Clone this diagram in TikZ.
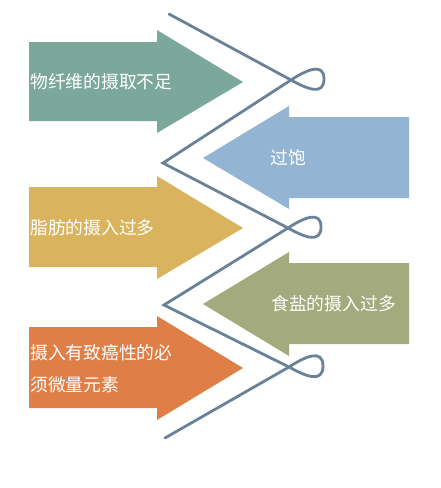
\documentclass[tikz,border=0pt]{standalone}
\usepackage{fontspec}
\newfontfamily\cjk{Noto Sans CJK SC}
\definecolor{cgreen}{HTML}{7BA89B}
\definecolor{cblue}{HTML}{93B4D3}
\definecolor{cyellow}{HTML}{D9B35E}
\definecolor{colive}{HTML}{A3AB7E}
\definecolor{corange}{HTML}{DE7F47}
\definecolor{cline}{HTML}{6A8299}
\begin{document}
\begin{tikzpicture}[x=1pt,y=-1pt,
  lbl/.style={text=white,font=\cjk\fontsize{17.8}{32}\selectfont,inner sep=0pt},
  rib/.style={draw=cline,line width=2.8pt,line cap=round,line join=miter},
  lp/.style={looseness=1.35}]
\useasboundingbox (0,0) rectangle (441,488);
% right-pointing arrows
\fill[cgreen] (29,42) -- (157,42) -- (157,30) -- (243,82) -- (157,133) -- (157,121) -- (29,121) -- cycle;
\fill[cyellow] (29,187) -- (157,187) -- (157,176) -- (243,228) -- (157,279) -- (157,267) -- (29,267) -- cycle;
\fill[corange] (29,327) -- (157,327) -- (157,316) -- (243,368) -- (157,420) -- (157,408) -- (29,408) -- cycle;
% left-pointing arrows
\fill[cblue] (409,117) -- (289,117) -- (289,106) -- (203,158) -- (289,209) -- (289,198) -- (409,198) -- cycle;
\fill[colive] (409,263) -- (289,263) -- (289,252) -- (203,304) -- (289,356) -- (289,344) -- (409,344) -- cycle;
% labels
\node[lbl,anchor=west] (t1) at (30,82) {物纤维的摄取不足};
\node[lbl] (t2) at (288,158) {过饱};
\node[lbl,anchor=west] (t3) at (30,228) {脂肪的摄入过多};
\node[lbl,anchor=west] (t4) at (271,304) {食盐的摄入过多};
\node[lbl,anchor=west] (t5a) at (30,353) {摄入有致癌性的必};
\node[lbl,anchor=west] (t5b) at (30,385) {须微量元素};
% ribbon line
\coordinate (s) at (169,14);
\coordinate (c1) at (291,80);
\coordinate (r1) at (324,79);
\coordinate (v1) at (163,163);
\coordinate (c2) at (288,228);
\coordinate (r2) at (321,227);
\coordinate (v2) at (164,305);
\coordinate (c3) at (289,367);
\coordinate (r3) at (323,366);
\coordinate (e) at (165,438);
\draw[rib] (s) -- (c1) to[lp,out=-29,in=-90] (r1) to[lp,out=90,in=33] (c1) -- (v1)
  -- (c2) to[lp,out=-29,in=-90] (r2) to[lp,out=90,in=33] (c2) -- (v2)
  -- (c3) to[lp,out=-29,in=-90] (r3) to[lp,out=90,in=33] (c3) -- (e);
\end{tikzpicture}
\end{document}
